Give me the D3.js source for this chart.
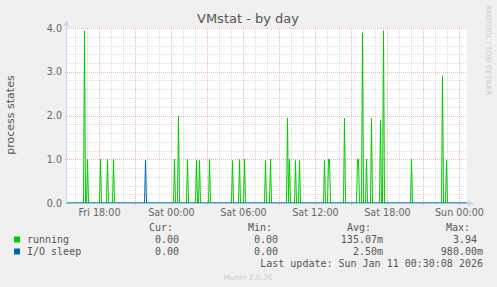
<!DOCTYPE html>
<html>
<head>
<meta charset="utf-8">
<script src="https://cdn.jsdelivr.net/npm/d3@7"></script>
<style>
  body { margin: 0; background: #f0f0f0; }
  svg { display: block; font-family: "DejaVu Sans", sans-serif; }
  .mono { font-family: "DejaVu Sans Mono", monospace; font-size: 10px; fill: #555; white-space: pre; }
</style>
</head>
<body>
<svg id="chart" width="497" height="287"></svg>
<script>
// running spikes (5 min samples, everything else is 0)
const runningTimes = [
  "2026-01-09 16:45", "2026-01-09 17:00", "2026-01-09 18:05", "2026-01-09 18:40", "2026-01-09 19:10",
  "2026-01-10 00:15", "2026-01-10 00:35", "2026-01-10 01:20", "2026-01-10 02:05", "2026-01-10 02:20",
  "2026-01-10 03:10", "2026-01-10 05:05", "2026-01-10 05:40", "2026-01-10 06:05", "2026-01-10 07:50",
  "2026-01-10 08:15", "2026-01-10 09:40", "2026-01-10 09:50", "2026-01-10 10:20", "2026-01-10 10:40",
  "2026-01-10 12:45", "2026-01-10 13:05", "2026-01-10 13:10", "2026-01-10 14:25", "2026-01-10 15:30",
  "2026-01-10 15:35", "2026-01-10 15:55", "2026-01-10 16:15", "2026-01-10 16:40", "2026-01-10 17:25",
  "2026-01-10 17:40", "2026-01-10 20:00", "2026-01-10 22:35", "2026-01-10 22:55"
];
const runningValues = [
  3.94, 1.0, 1.0, 1.0, 1.0,
  1.0, 1.98, 1.0, 0.97, 0.97,
  1.0, 0.97, 1.0, 1.0, 0.97,
  1.0, 1.94, 1.0, 0.97, 0.97,
  0.97, 1.0, 1.0, 1.94, 1.0,
  1.0, 3.89, 1.0, 1.94, 1.9,
  3.94, 1.0, 2.91, 0.97
];
const ioTimes = ["2026-01-09 21:50"];
const ioValues = [0.98];

const yTicks = [0, 1, 2, 3, 4];
const yTickLabels = ["0.0", "1.0", "2.0", "3.0", "4.0"];

const legendNames = ["running", "I/O sleep"];
const legendColors = ["#00cc00", "#0066b3"];
const curValues = ["0.00 ", "0.00 "];
const minValues = ["0.00 ", "0.00 "];
const avgValues = ["135.07m", "2.50m"];
const maxValues = ["3.94 ", "980.00m"];

const parse = d3.timeParse("%Y-%m-%d %H:%M");
const step = 5 * 60 * 1000;

const svg = d3.select('#chart');
const plotLeft = 67, plotRight = 467, plotTop = 28, plotBottom = 203;

// pixel 99.5 is Fri 18:00, one pixel per 5 minutes
const ref = parse("2026-01-09 18:00");
const tStart = new Date(+ref - 32.5 * step);
const tEnd = new Date(+tStart + 400 * step);

const x = d3.scaleTime().domain([tStart, tEnd]).range([plotLeft, plotRight]);
const y = d3.scaleLinear().domain([0, 4]).range([plotBottom, plotTop]);

svg.append('rect').attr('x', plotLeft).attr('y', plotTop)
    .attr('width', plotRight - plotLeft).attr('height', plotBottom - plotTop)
    .attr('fill', '#ffffff');

// Grid
const majorColor = 'rgba(240,130,130,0.6)';
const minorColor = 'rgba(190,190,190,0.55)';
const grid = svg.append('g').attr('shape-rendering', 'crispEdges');
d3.timeHour.range(tStart, tEnd).forEach(h => {
    const major = h.getHours() % 3 === 0;
    grid.append('line')
        .attr('x1', Math.floor(x(h)) + 0.5).attr('x2', Math.floor(x(h)) + 0.5)
        .attr('y1', plotTop).attr('y2', major ? plotBottom + 3 : plotBottom)
        .attr('stroke', major ? majorColor : minorColor)
        .attr('stroke-dasharray', '1,1');
});
d3.range(0, 4.01, 0.2).forEach(v => {
    const major = Math.abs(v - Math.round(v)) < 1e-6;
    grid.append('line')
        .attr('x1', major ? plotLeft - 2 : plotLeft).attr('x2', plotRight)
        .attr('y1', Math.round(y(v)) + 0.5).attr('y2', Math.round(y(v)) + 0.5)
        .attr('stroke', major ? majorColor : minorColor)
        .attr('stroke-dasharray', '1,1');
});

// Series
function buildPoints(times, values) {
    const pts = times.map((t, i) => ({ t: parse(t), v: values[i] }));
    const out = [{ t: tStart, v: 0 }];
    pts.forEach((p, i) => {
        const prev = pts[i - 1], next = pts[i + 1];
        if (!prev || +p.t - +prev.t > step) out.push({ t: new Date(+p.t - step), v: 0 });
        out.push(p);
        if (!next || +next.t - +p.t > step) out.push({ t: new Date(+p.t + step), v: 0 });
    });
    out.push({ t: tEnd, v: 0 });
    return out;
}

const line = d3.line().x(d => x(d.t)).y(d => y(d.v));

svg.append('path')
    .datum(buildPoints(runningTimes, runningValues))
    .attr('d', line)
    .attr('fill', 'none')
    .attr('stroke', legendColors[0])
    .attr('stroke-width', 1);

svg.append('path')
    .datum(buildPoints(ioTimes, ioValues))
    .attr('d', line)
    .attr('fill', 'none')
    .attr('stroke', legendColors[1])
    .attr('stroke-width', 1);

// Axes
const axisColor = '#cfd6f8';
svg.append('line').attr('x1', plotLeft - 0.5).attr('x2', plotLeft - 0.5)
    .attr('y1', plotTop - 2).attr('y2', plotBottom + 1).attr('stroke', axisColor);
svg.append('line').attr('x1', plotLeft - 1).attr('x2', plotRight + 2)
    .attr('y1', plotBottom + 0.5).attr('y2', plotBottom + 0.5).attr('stroke', '#a9bde6');
svg.append('path')
    .attr('d', `M${plotLeft - 3.5},${plotTop - 2} L${plotLeft - 0.5},${plotTop - 8} L${plotLeft + 2.5},${plotTop - 2} Z`)
    .attr('fill', axisColor);
svg.append('path')
    .attr('d', `M${plotRight + 1},${plotBottom - 3} L${plotRight + 7},${plotBottom + 0.5} L${plotRight + 1},${plotBottom + 4} Z`)
    .attr('fill', axisColor);

// Tick labels
svg.append('g').selectAll('text')
    .data(yTicks)
    .enter().append('text')
    .attr('x', 62).attr('y', d => y(d) + 3.5)
    .attr('text-anchor', 'end')
    .attr('font-size', 9.6).attr('fill', '#666')
    .text((d, i) => yTickLabels[i]);

const fmt = d3.timeFormat("%a %H:%M");
svg.append('g').selectAll('text')
    .data(d3.timeHour.every(6).range(tStart, tEnd))
    .enter().append('text')
    .attr('x', d => Math.floor(x(d)) + 0.5).attr('y', 216)
    .attr('text-anchor', 'middle')
    .attr('font-size', 9.6).attr('fill', '#666')
    .text(d => fmt(d));

// Titles
svg.append('text')
    .attr('x', 248).attr('y', 23)
    .attr('text-anchor', 'middle')
    .attr('font-size', 13).attr('fill', '#555')
    .text('VMstat - by day');

svg.append('text')
    .attr('transform', 'translate(14,115) rotate(-90)')
    .attr('text-anchor', 'middle')
    .attr('font-size', 11).attr('fill', '#555')
    .text('process states');

svg.append('text')
    .attr('transform', 'translate(486,5) rotate(90)')
    .attr('text-anchor', 'start')
    .attr('font-size', 7).attr('fill', '#cccccc')
    .text('RRDTOOL / TOBI OETIKER');

// Legend
const headers = [["Cur:", 173], ["Min:", 272], ["Avg:", 371], ["Max:", 470]];
headers.forEach(h => {
    svg.append('text').attr('class', 'mono')
        .attr('x', h[1]).attr('y', 231).attr('text-anchor', 'end').text(h[0]);
});

legendNames.forEach((name, i) => {
    const yy = 243 + i * 12;
    svg.append('rect').attr('x', 14).attr('y', yy - 6.5)
        .attr('width', 6).attr('height', 6).attr('fill', legendColors[i]);
    svg.append('text').attr('class', 'mono').attr('x', 27).attr('y', yy).text(name);
    [[curValues, 185], [minValues, 284], [avgValues, 383], [maxValues, 483]].forEach(c => {
        svg.append('text').attr('class', 'mono')
            .attr('x', c[1]).attr('y', yy).attr('text-anchor', 'end')
            .attr('xml:space', 'preserve')
            .text(c[0][i]);
    });
});

svg.append('text').attr('class', 'mono')
    .attr('x', 483).attr('y', 267).attr('text-anchor', 'end')
    .text('Last update: Sun Jan 11 00:30:08 2026');

svg.append('text')
    .attr('x', 248).attr('y', 280)
    .attr('text-anchor', 'middle')
    .attr('font-size', 7.5).attr('fill', '#cccccc')
    .text('Munin 2.0.76');
</script>
</body>
</html>
